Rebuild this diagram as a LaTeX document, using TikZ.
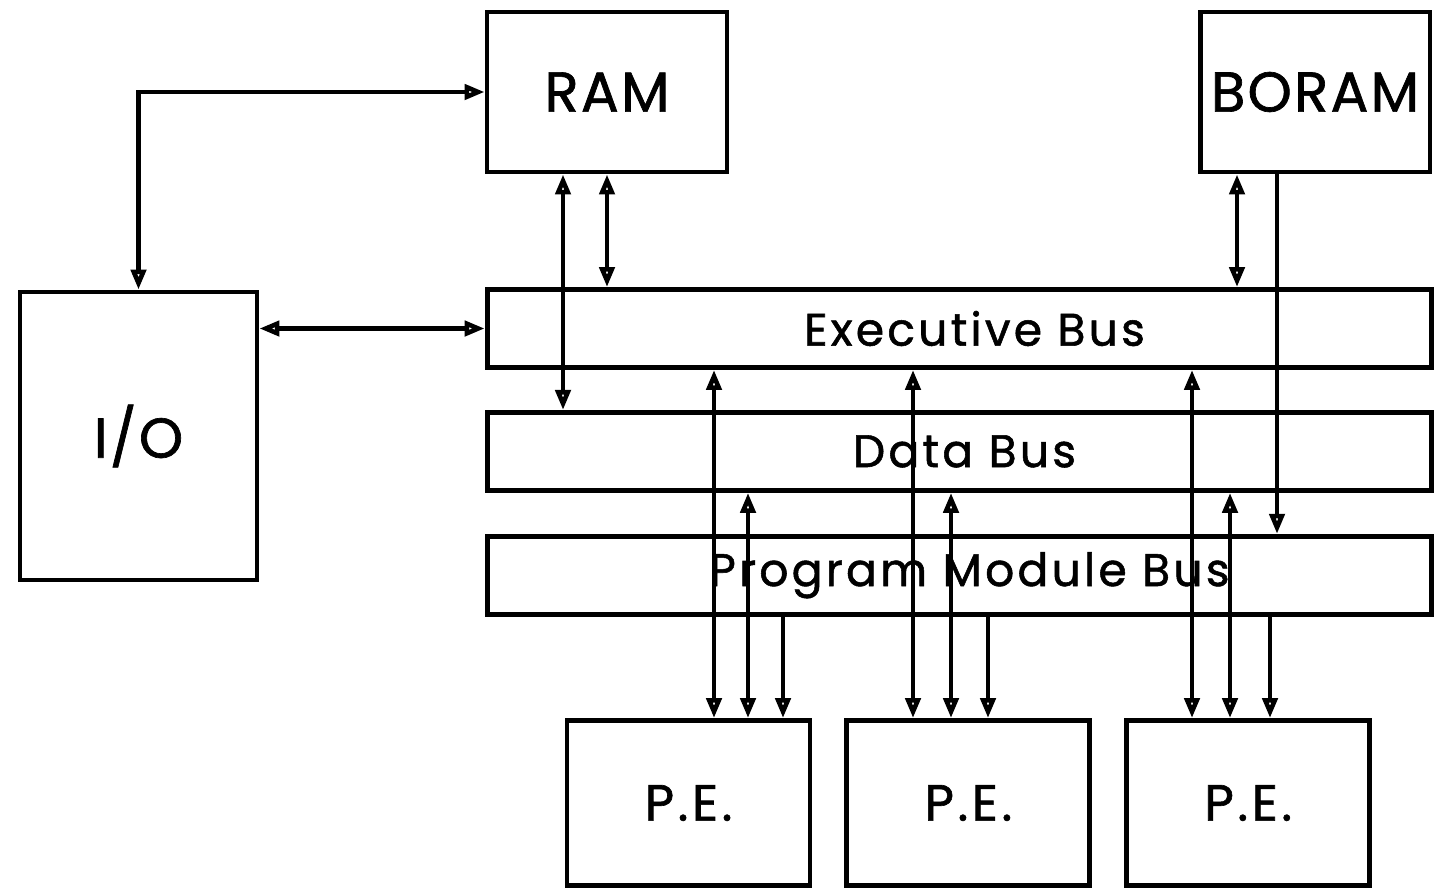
\documentclass[tikz,border=0pt]{standalone}
\usepackage{fontspec}
\setmainfont{Poppins}
\newfontfamily\unitfont[LetterSpace=4, FakeBold=1.2]{Poppins}
\newfontfamily\busfont[LetterSpace=7, FakeBold=1.2]{Poppins}
\usetikzlibrary{arrows.meta,positioning}

\begin{document}
\begin{tikzpicture}[
    x=0.02cm, y=-0.02cm,
    box/.style={draw, rectangle, line width=2.8pt, inner sep=0pt},
    unit/.style={box, minimum width=4.8cm, minimum height=3.2cm, font=\unitfont\fontsize{32}{36}\selectfont},
    bus/.style={box, minimum width=18.9cm, minimum height=1.56cm, font=\busfont\fontsize{26}{30}\selectfont},
    pe/.style={box, minimum width=4.86cm, minimum height=3.3cm, font=\busfont\fontsize{29}{33}\selectfont},
    link/.style={line width=2.6pt, {Triangle[open, length=0.4cm, width=0.3cm]}-{Triangle[open, length=0.4cm, width=0.3cm]}},
    feed/.style={line width=2.6pt, -{Triangle[open, length=0.4cm, width=0.3cm]}}
]
    \useasboundingbox (0,0) rectangle (1436,889);

    % --- memories and I/O ---
    \node[unit] (ram) at (607,92) {RAM};
    \node[unit, minimum width=4.6cm] (boram) at (1315,92) {BORAM};
    \node[unit, minimum width=4.74cm, minimum height=5.76cm] (io) at (138.5,436) {I/O};

    % --- the three buses ---
    \node[bus] (exec) at (959.5,328.5) {\hspace{0.6cm}Executive Bus};
    \node[bus] (data) [below=0.8cm of exec] {\hspace{0.2cm}Data Bus};
    \node[bus] (pm) [below=0.82cm of data] {\hspace{0.4cm}Program Module Bus};

    % --- processing elements ---
    \node[pe] (pe1) at (688.5,803) {P.E.};
    \node[pe] (pe2) [right=0.64cm of pe1] {P.E.};
    \node[pe] (pe3) [right=0.64cm of pe2] {P.E.};

    % --- column positions of the vertical lines ---
    \coordinate (r1) at (563,0);
    \coordinate (r2) at (607,0);
    \coordinate (b1) at (1237,0);
    \coordinate (b2) at (1277,0);

    % --- memory and I/O links ---
    \draw[link] (io.north) |- (ram.west);
    \draw[link] (io.east |- exec.west) -- (exec.west);
    \draw[link] (ram.south -| r1) -- (data.north -| r1);
    \draw[link] (ram.south -| r2) -- (exec.north -| r2);
    \draw[link] (boram.south -| b1) -- (exec.north -| b1);
    \draw[feed] (boram.south -| b2) -- (pm.north -| b2);

    % --- bus to P.E. links ---
    \foreach \a/\b/\c [count=\i] in {714/748/783, 913/951/988, 1192/1230/1270} {
        \coordinate (ea\i) at (\a,0);
        \coordinate (da\i) at (\b,0);
        \coordinate (pa\i) at (\c,0);
        \draw[link] (exec.south -| ea\i) -- (pe\i.north -| ea\i);
        \draw[link] (data.south -| da\i) -- (pe\i.north -| da\i);
        \draw[feed] (pm.south -| pa\i) -- (pe\i.north -| pa\i);
    }

\end{tikzpicture}
\end{document}
